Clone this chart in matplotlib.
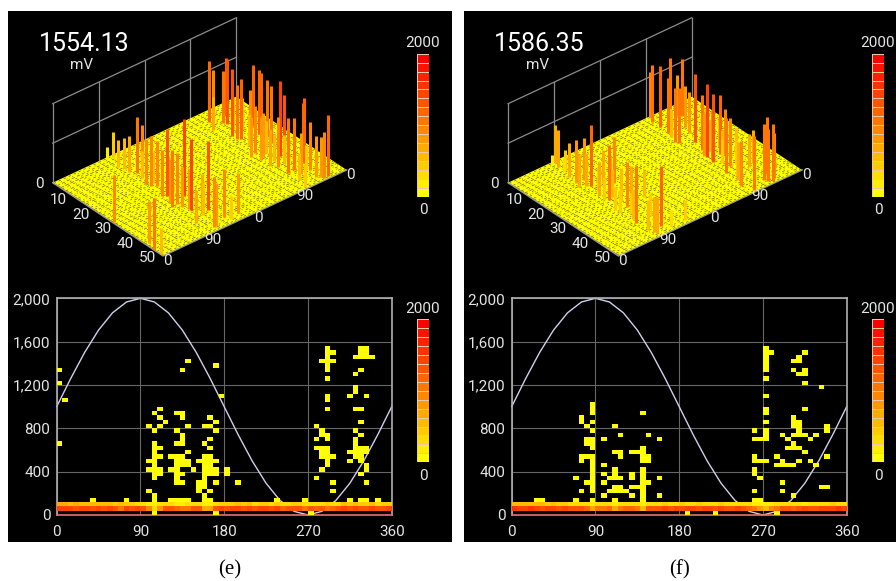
import numpy as np
import matplotlib
matplotlib.use("Agg")
import matplotlib.pyplot as plt
from matplotlib.colors import ListedColormap
from matplotlib.patches import Polygon, Rectangle

plt.rcParams["font.family"] = ["Roboto", "DejaVu Sans"]

W, H = 896, 581

# reference curve
sine_phase = [0, 15, 30, 45, 60, 75, 90, 105, 120, 135, 150, 165, 180, 195, 210, 225, 240, 255, 270, 285, 300, 315, 330, 345, 360]
sine_mv = [1000, 1259, 1500, 1707, 1866, 1966, 2000, 1966, 1866, 1707, 1500, 1259, 1000, 741, 500, 293, 134, 34, 0, 34, 134, 293, 500, 741, 1000]

phase_ticks = [0, 90, 180, 270, 360]
mv_ticks = [0, 400, 800, 1200, 1600, 2000]
mv_labels = ["0", "400", "800", "1,200", "1,600", "2,000"]
depth_ticks = [10, 20, 30, 40, 50]
floor_phase_ticks = [0, 90, 180, 270, 360]
floor_phase_labels = ["0", "90", "0", "90", "0"]

# panel (e): isolated heatmap cells as (column, row), 6 deg x 40 mV
e_cells = [(0, 33), (0, 30), (1, 26), (0, 16), (23, 35), (22, 33), (28, 34), (29, 27),
           (18, 24), (17, 23), (18, 22), (19, 21), (16, 20), (18, 20), (17, 19),
           (17, 16), (17, 15), (18, 15), (17, 14), (17, 13), (18, 13), (16, 12), (17, 12), (17, 11),
           (16, 10), (17, 10), (18, 10), (17, 9), (18, 9), (17, 8), (16, 5), (17, 4), (17, 3), (17, 0),
           (21, 23), (22, 23), (22, 22), (23, 20), (21, 19), (22, 18), (22, 17), (21, 16), (22, 16),
           (23, 14), (20, 13), (21, 13), (22, 13), (21, 12), (22, 12), (23, 12), (21, 11), (22, 11), (23, 11),
           (20, 10), (21, 10), (24, 10), (21, 9), (22, 9), (21, 8), (21, 7), (22, 7),
           (20, 3), (21, 3), (22, 3), (23, 3), (6, 3), (12, 3),
           (27, 22), (28, 21), (26, 20), (27, 20), (28, 19), (27, 17), (26, 16), (27, 15),
           (26, 13), (27, 13), (25, 12), (26, 12), (27, 12), (28, 12), (26, 11), (27, 11),
           (26, 10), (27, 10), (28, 10), (26, 9), (27, 9), (28, 9), (26, 8), (25, 7), (26, 7), (28, 7),
           (25, 6), (26, 6), (25, 5), (27, 5), (26, 4), (26, 3), (27, 3), (28, 0),
           (30, 10), (30, 9), (32, 7), (39, 3), (44, 3), (45, 0),
           (48, 38), (48, 37), (49, 37), (48, 36), (47, 35), (48, 35), (49, 35), (48, 34), (48, 33), (48, 31),
           (48, 27), (48, 26), (48, 24), (46, 20), (47, 19), (47, 18), (48, 18), (46, 17), (48, 17),
           (46, 15), (47, 15), (48, 15), (47, 14), (48, 14), (47, 13), (48, 13), (49, 13), (48, 12), (48, 11),
           (47, 10), (46, 8), (49, 7), (49, 5),
           (54, 38), (55, 38), (54, 37), (55, 37), (53, 36), (54, 36), (55, 36), (56, 36), (54, 33), (53, 32),
           (53, 29), (53, 28), (52, 27), (55, 27), (53, 24), (54, 24), (54, 21), (53, 19), (54, 18), (53, 17),
           (53, 16), (53, 15), (54, 15), (55, 15), (52, 14), (53, 14), (54, 14), (55, 14), (53, 13), (54, 13),
           (52, 12), (54, 12), (55, 11), (55, 10), (54, 9), (55, 7),
           (52, 3), (54, 3), (55, 3), (57, 3)]
# the two hot rows along the bottom of the heatmap
e_band_upper = [650, 650, 600, 700, 600, 500, 600, 500, 550, 500, 450, 550, 400, 450, 300, 350, 200, 200, 250, 300,
                300, 200, 150, 250, 300, 250, 200, 200, 300, 400, 450, 400, 500, 450, 500, 350, 400, 450, 350, 450,
                300, 350, 400, 400, 250, 300, 300, 300, 400, 350, 350, 500, 450, 500, 400, 450, 500, 350, 450, 450]
e_band_lower = [1450, 1400, 1450, 1350, 1450, 1400, 1300, 1400, 1350, 1450, 1250, 1100, 1450, 1350, 1450, 1250, 950, 350, 800, 1250,
                1300, 1150, 1050, 1000, 1300, 1250, 700, 650, 1300, 1400, 1350, 1450, 1400, 1300, 1450, 1350, 1400, 1450, 1300, 1400,
                1200, 1350, 1300, 1350, 1100, 1250, 1150, 1300, 1100, 1200, 1250, 1400, 1300, 1450, 1350, 1300, 1400, 1250, 1350, 1400]
# 3d bars: phase (deg), depth along the 0-50 axis, height (mV)
e_bar_phase = [3, 0, 7, 1, 104, 113, 103, 105, 107, 114, 119, 106, 107, 113, 102, 108, 96, 106, 128, 111, 95, 120, 132, 108, 113,
               284, 292, 276, 303, 314, 303, 299, 287, 288, 292, 301, 328, 322, 326, 325, 320, 307, 306, 288, 299, 301, 322, 324, 318,
               312, 319, 320, 328, 285, 278, 287, 284, 283, 137, 160, 141, 272, 278, 289,
               107, 100, 112, 118, 125, 118, 110, 114, 290, 296, 305, 312, 298, 308, 315, 292, 302, 310]
e_bar_depth = [27, 46, 42, 49, 0.5, 1, 6, 8, 10, 12, 13, 18, 20, 21, 26, 27, 32, 32, 30, 37, 43, 40, 40, 48, 48,
               5, 5, 9, 7, 6, 9, 8, 15, 17, 18, 20, 15, 19, 19, 22, 25, 32, 34, 40, 40, 43, 39, 39, 43,
               47, 48, 49, 49, 36, 34, 29, 26, 49, 46, 47, 48, 27, 30, 45,
               34, 30, 36, 41, 44, 25, 15, 19, 22, 28, 25, 30, 36, 38, 42, 33, 12, 14]
e_bar_height = [1180, 1330, 1050, 675, 295, 630, 690, 800, 910, 1430, 1220, 1140, 1265, 1140, 1180, 1700, 1430, 1290, 1940, 1810, 840, 970, 1730, 1265, 1100,
                1560, 1280, 840, 1180, 1475, 1640, 1310, 1700, 1350, 1520, 1280, 1560, 1600, 1520, 1450, 1430, 1900, 1640, 1380, 1320, 1030, 1520, 1620, 1220,
                1050, 1010, 1160, 1550, 1265, 930, 1100, 1180, 590, 1220, 1010, 590, 1010, 1100, 670,
                1010, 1100, 1000, 800, 700, 900, 700, 800, 800, 800, 800, 700, 750, 700, 600, 700, 800, 800]

# panel (f)
f_cells = [(14, 25), (14, 24), (14, 23), (14, 21), (14, 19), (14, 17), (14, 16), (14, 15),
           (14, 13), (14, 12), (14, 11), (14, 10), (14, 9), (14, 8), (14, 7), (14, 6), (14, 5), (14, 3),
           (13, 17), (13, 16), (13, 20), (13, 13), (13, 7), (12, 22), (12, 21), (12, 13), (12, 12), (12, 5),
           (11, 8), (11, 3), (16, 17), (16, 11), (16, 9), (16, 7), (16, 4), (17, 8), (17, 5),
           (18, 10), (18, 9), (18, 8), (19, 8), (18, 20), (19, 18), (18, 14), (19, 14), (19, 13),
           (18, 6), (19, 6), (18, 5), (19, 5), (20, 5), (18, 3),
           (21, 14), (22, 14), (23, 15), (23, 14), (23, 13), (24, 13), (23, 12), (24, 12), (23, 23), (24, 18), (26, 17),
           (21, 9), (21, 8), (21, 6), (22, 6), (21, 4),
           (23, 10), (23, 9), (23, 8), (23, 7), (23, 6), (23, 5), (23, 4), (23, 3), (24, 7), (26, 8), (26, 4),
           (4, 3), (5, 3),
           (45, 38), (45, 37), (46, 37), (45, 36), (45, 35), (45, 34), (45, 33), (45, 31), (45, 27), (45, 24), (45, 23), (45, 21),
           (45, 19), (45, 18), (45, 17), (44, 17), (43, 17), (43, 19), (43, 13), (43, 12), (44, 12), (45, 12),
           (43, 10), (43, 9), (44, 8), (43, 5), (43, 3), (44, 3), (31, 0), (36, 0), (47, 0),
           (52, 37), (51, 36), (50, 35), (51, 35), (50, 33), (51, 32), (52, 33), (52, 32), (52, 30), (55, 29), (52, 24),
           (50, 22), (50, 21), (51, 21), (50, 20), (51, 20), (56, 20), (56, 19), (51, 19), (48, 18), (50, 18), (51, 18), (52, 18), (54, 18),
           (49, 17), (53, 17), (50, 16), (49, 15), (50, 15), (51, 15), (52, 14), (47, 13), (56, 13), (48, 12), (51, 12), (53, 12),
           (47, 11), (48, 11), (49, 11), (50, 11), (54, 11), (48, 7), (55, 6), (56, 6), (48, 5), (50, 4)]
f_band_upper = [550, 600, 550, 500, 600, 500, 450, 500, 450, 400, 350, 300, 350, 350, 150, 300, 350, 300, 200, 300,
                350, 300, 300, 150, 300, 350, 300, 400, 350, 300, 400, 350, 300, 400, 350, 300, 350, 400, 300, 350,
                300, 350, 300, 200, 200, 150, 200, 250, 300, 250, 300, 250, 200, 250, 300, 250, 350, 400, 300, 350]
f_band_lower = [1500, 1450, 1400, 1500, 1400, 1350, 1450, 1400, 1300, 1400, 1350, 1300, 1250, 1150, 650, 1100, 1000, 1150, 700, 1100,
                1200, 1150, 1050, 500, 1250, 1300, 1350, 1450, 1350, 1400, 1300, 1400, 1450, 1350, 1400, 1450, 1300, 1400, 1350, 1300,
                1400, 1300, 1200, 1000, 800, 600, 900, 1100, 1250, 1300, 1200, 1350, 1400, 1300, 1350, 1400, 1450, 1400, 1500, 1450]
f_bar_phase = [87, 85, 82, 83, 81, 87, 77, 74, 92, 89, 84, 84, 109, 86, 121, 105, 76, 76, 95, 107, 77, 80, 132, 79, 83, 84, 100, 111,
               276, 271, 272, 270, 313, 309, 314, 263, 267, 265, 300, 294, 285, 280, 273, 271, 294, 299, 268, 284, 268, 262, 308, 304, 316,
               271, 299, 313, 301, 313, 307, 139, 275, 271,
               90, 95, 100, 80, 90, 105, 285, 290, 295, 300, 305, 280, 275]
f_bar_depth = [1, 3, 1, 6, 9, 5.5, 13, 15, 13, 17, 16, 22, 18, 26, 20, 22, 31, 33, 32, 31, 40, 38, 31, 45, 47, 48, 46, 48,
               0.5, 2.5, 6, 10, 1, 5, 6, 15, 12, 16, 11, 14, 19, 23, 27, 30, 28, 29, 37, 35, 42, 45, 32, 39, 38,
               49, 47, 45, 48, 48, 49, 48, 29, 26,
               20, 25, 28, 25, 35, 40, 25, 30, 35, 20, 25, 32, 40]
f_bar_height = [970, 930, 250, 340, 840, 510, 1100, 840, 1050, 1560, 840, 840, 840, 1390, 1180, 840, 590, 590, 1140, 930, 1430, 760, 670, 760, 885, 910, 1520, 420,
                1140, 1430, 1530, 1390, 1310, 1050, 1450, 1370, 670, 1390, 1050, 1050, 1730, 1390, 1855, 1730, 1475, 1140, 1390, 1220, 970, 1140, 720, 830, 830,
                1350, 1420, 1430, 1320, 1155, 1450, 510, 1265, 1100,
                600, 700, 800, 600, 500, 600, 800, 700, 600, 800, 700, 600, 600]

heat_cmap = ListedColormap(["#ffff00", "#ffee00", "#ffdd00", "#ffcc00", "#ffbb00", "#ffaa00", "#ff9900", "#ff8800",
                            "#ff7700", "#ff6600", "#ff5500", "#ff4400", "#ff3300", "#ff2200", "#ff1100", "#ff0000"])


def px_axes(fig, x0, y0, x1, y1):
    return fig.add_axes([x0 / W, 1 - y1 / H, (x1 - x0) / W, (y1 - y0) / H])


def floor_xy(phase, depth, ox):
    x = ox + 52.7 + np.asarray(depth) / 50 * 110.3 + np.asarray(phase) / 360 * 183.7
    y = 182.7 + np.asarray(depth) / 50 * 73.3 - np.asarray(phase) / 360 * 86
    return x, y


def draw_colorbar(fig, ox, y0):
    cax = px_axes(fig, 416.7 + ox, y0, 429.3 + ox, y0 + 143)
    cax.pcolormesh([0, 1], np.arange(17), np.arange(16).reshape(16, 1), cmap=heat_cmap,
                   edgecolors="#e9c8a8", linewidth=0.5)
    cax.set_xlim(0, 1)
    cax.set_ylim(0, 16)
    cax.axis("off")
    cax.text(0.5, 1.025, "2000", transform=cax.transAxes, color="#e4e4e4", fontsize=11, ha="center", va="bottom")
    cax.text(0.5, -0.045, "0", transform=cax.transAxes, color="#e4e4e4", fontsize=11, ha="center", va="top")


def draw_heatmap(fig, ox, cells, band_upper, band_lower):
    ax = px_axes(fig, 56.7 + ox, 298.3, 391.7 + ox, 515)
    ax.set_facecolor("black")
    grid = np.zeros((50, 60))
    for col, row in cells:
        grid[row, col] = 40
    grid[2] = band_upper
    grid[1] = band_lower
    ax.grid(True, color="#666666", lw=0.8)
    ax.set_axisbelow(True)
    ax.plot(sine_phase, sine_mv, color="#cfd0ea", lw=1.0, zorder=2, clip_on=False)
    ax.pcolormesh(np.arange(61) * 6, np.arange(51) * 40, np.ma.masked_equal(grid, 0), cmap=heat_cmap,
                  vmin=0, vmax=2000, zorder=3, antialiased=False)
    ax.set_xlim(0, 360)
    ax.set_ylim(0, 2000)
    ax.set_xticks(phase_ticks)
    ax.set_yticks(mv_ticks, mv_labels)
    ax.tick_params(length=0, colors="#e4e4e4", labelsize=11)
    ax.tick_params(axis="x", pad=7)
    ax.tick_params(axis="y", pad=4.5)
    for side in ["left", "top", "right"]:
        ax.spines[side].set_color("#b0b0b0")
        ax.spines[side].set_linewidth(1.2)
    ax.spines["bottom"].set_color("#e87070")
    ax.spines["bottom"].set_linewidth(1.2)


def draw_3d(ax, ox, value, bar_phase, bar_depth, bar_height):
    wall = "#8c8c8c"
    # back wall
    for mv in [1000, 2000]:
        x, y = floor_xy([0, 360], [0, 0], ox)
        ax.plot(x, y - mv / 2000 * 79, color=wall, lw=0.9)
    for p in [0, 90, 180, 270, 360]:
        x, y = floor_xy(p, 0, ox)
        ax.plot([x, x], [y, y - 79], color=wall, lw=0.9)

    # floor
    xs, ys = floor_xy([0, 0, 360, 360], [0, 50, 50, 0], ox)
    ax.add_patch(Polygon(np.column_stack([xs, ys]), closed=True, fc="#ffff00", ec="none", zorder=2))
    for d in np.arange(0.5, 50, 0.75):
        x, y = floor_xy([0, 360], [d, d], ox)
        ax.plot(x, y, color="black", lw=0.5, alpha=0.6, dashes=(1.4 + (int(d * 4) % 5), 2.5 + (int(d * 4) % 7)), zorder=3)

    # front edges and labels
    x, y = floor_xy([0, 0, 360], [0, 50, 50], ox)
    ax.plot(x, y, color="#9a9a9a", lw=1.0, zorder=3)
    x, y = floor_xy(0, 0, ox)
    ax.text(x - 13.5, y + 1, "0", color="#e4e4e4", fontsize=11, ha="center", va="center")
    for d in depth_ticks:
        x, y = floor_xy(0, d, ox)
        ax.text(x - 16, y + 2.5, str(d), color="#e4e4e4", fontsize=11, ha="center", va="center")
    for p, lab in zip(floor_phase_ticks, floor_phase_labels):
        x, y = floor_xy(p, 50, ox)
        ax.text(x + 4, y + 5, lab, color="#e4e4e4", fontsize=11, ha="center", va="center")

    # bars, back to front; bar colour saturates well below the top of the scale
    bx, by = floor_xy(bar_phase, bar_depth, ox)
    heights = np.asarray(bar_height)
    order = np.argsort(by)
    ax.vlines(bx[order], by[order], by[order] - heights[order] / 2000 * 79, colors=heat_cmap(heights[order] / 2600),
              lw=2.2, zorder=4, capstyle="butt")

    ax.text(39 + ox, 44, value, color="white", fontsize=18, ha="left", va="center")
    ax.text(82 + ox, 65, "mV", color="#e4e4e4", fontsize=11, ha="center", va="center")


fig = plt.figure(figsize=(W / 100, H / 100), dpi=100, facecolor="white")
bg = fig.add_axes([0, 0, 1, 1])
bg.set_xlim(0, W)
bg.set_ylim(H, 0)
bg.axis("off")
bg.add_patch(Rectangle((8, 11), 444, 530.5, fc="black", ec="none"))
bg.add_patch(Rectangle((464, 11), 432, 530.5, fc="black", ec="none"))

draw_3d(bg, 0, "1554.13", e_bar_phase, e_bar_depth, e_bar_height)
draw_3d(bg, 455.4, "1586.35", f_bar_phase, f_bar_depth, f_bar_height)

for ox, cells, upper, lower in [(0, e_cells, e_band_upper, e_band_lower), (455, f_cells, f_band_upper, f_band_lower)]:
    draw_heatmap(fig, ox, cells, upper, lower)
    draw_colorbar(fig, ox, 53.7)
    draw_colorbar(fig, ox, 319.3)

bg.text(230, 570, "(e)", color="black", family="Liberation Serif", fontsize=15, ha="center", va="center")
bg.text(680, 570, "(f)", color="black", family="Liberation Serif", fontsize=15, ha="center", va="center")

fig.savefig("out.png", dpi=100, facecolor="white")
